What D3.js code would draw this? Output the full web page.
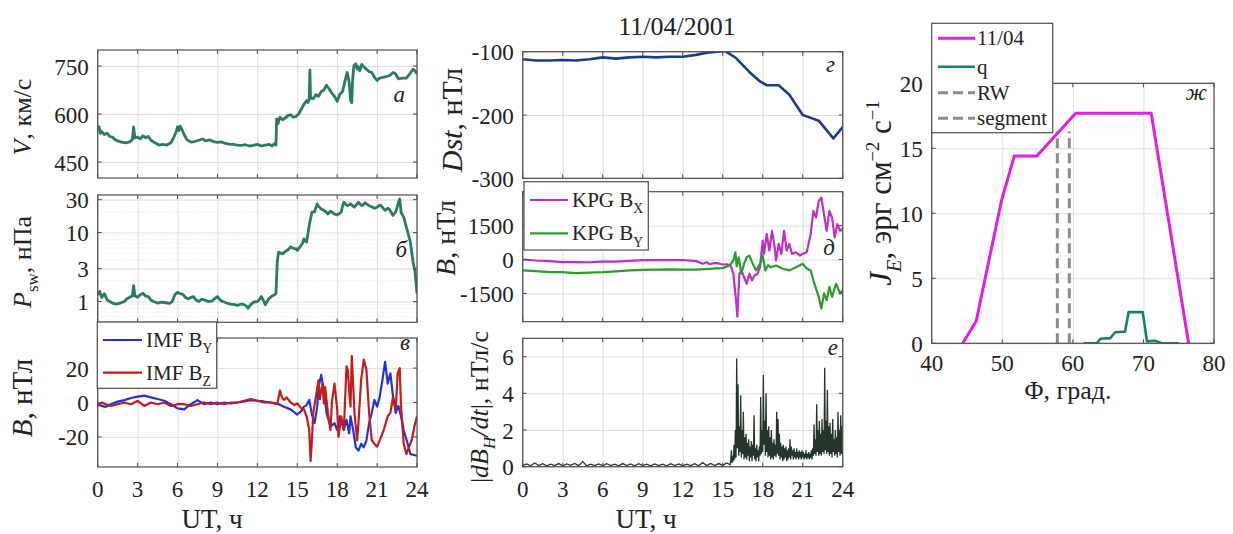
<!DOCTYPE html>
<html>
<head>
<meta charset="utf-8">
<script src="https://cdn.jsdelivr.net/npm/d3@7"></script>
<style>
  body { margin: 0; background: #fff; }
  svg text { font-family: "Liberation Serif", "Times New Roman", serif; fill: #222; }
</style>
</head>
<body>
<svg id="fig" width="1233" height="534"></svg>
<script>
// ---------- data ----------
const hourTicks = [0, 3, 6, 9, 12, 15, 18, 21, 24];

// solar wind speed, km/s  [UT hour, value]
const speed = [[0,548],[0.1,560],[0.2,540],[0.3,545],[0.5,536],[0.7,540],[0.9,530],[1.1,528],[1.3,520],[1.5,516],[1.8,512],[2.1,510],[2.4,513],[2.6,520],[2.7,560],[2.8,525],[3.0,528],[3.2,522],[3.4,532],[3.6,526],[3.8,530],[4.0,518],[4.3,510],[4.6,503],[4.9,505],[5.2,503],[5.5,510],[5.7,525],[5.9,545],[6.0,560],[6.1,548],[6.2,562],[6.35,550],[6.5,535],[6.7,520],[7.0,512],[7.3,514],[7.6,518],[7.9,522],[8.1,516],[8.4,519],[8.7,514],[9.0,511],[9.3,513],[9.6,508],[9.9,506],[10.2,505],[10.5,503],[10.8,502],[11.1,504],[11.4,500],[11.7,502],[12.0,505],[12.3,500],[12.6,503],[12.9,505],[13.1,500],[13.3,508],[13.4,503],[13.45,585],[13.55,570],[13.7,590],[13.9,582],[14.1,588],[14.3,595],[14.5,598],[14.7,590],[14.9,592],[15.1,600],[15.3,615],[15.5,630],[15.7,642],[15.8,636],[15.9,645],[15.95,737],[16.0,650],[16.2,648],[16.4,660],[16.6,655],[16.8,670],[17.0,675],[17.2,690],[17.4,678],[17.6,665],[17.8,655],[18.0,640],[18.2,662],[18.4,670],[18.6,705],[18.75,730],[18.9,700],[19.0,645],[19.1,635],[19.15,700],[19.25,750],[19.4,757],[19.5,740],[19.6,748],[19.7,735],[19.85,755],[20.0,748],[20.2,740],[20.4,732],[20.6,730],[20.8,715],[21.0,705],[21.2,712],[21.5,715],[21.8,718],[22.0,722],[22.2,730],[22.4,725],[22.6,710],[22.9,712],[23.2,712],[23.5,728],[23.7,740],[23.85,735],[24.0,725]];
const speedTicks = [450, 600, 750];

// dynamic pressure, nPa
const pressure = [[0,1.25],[0.15,1.4],[0.3,1.15],[0.5,1.3],[0.7,1.06],[0.9,1.0],[1.1,0.95],[1.4,0.92],[1.7,0.95],[2.0,1.0],[2.2,1.1],[2.4,1.15],[2.6,1.2],[2.7,1.7],[2.8,1.2],[3.0,1.15],[3.2,1.25],[3.4,1.32],[3.6,1.2],[3.8,1.18],[4.0,1.05],[4.2,1.0],[4.5,0.95],[4.8,0.98],[5.1,0.96],[5.4,0.94],[5.6,1.0],[5.8,1.25],[6.0,1.36],[6.2,1.3],[6.4,1.27],[6.6,1.15],[6.8,1.09],[7.0,1.15],[7.2,1.18],[7.4,1.05],[7.6,1.0],[7.8,1.08],[8.0,1.06],[8.3,1.0],[8.6,1.02],[8.8,1.1],[9.0,1.18],[9.2,1.05],[9.4,1.0],[9.7,0.95],[10.0,0.92],[10.3,0.9],[10.5,0.88],[10.8,0.92],[11.0,0.9],[11.2,0.85],[11.3,0.8],[11.5,0.9],[11.7,0.98],[12.0,1.0],[12.2,1.1],[12.3,1.18],[12.5,1.0],[12.6,0.9],[12.8,1.05],[12.9,1.12],[13.1,1.2],[13.3,1.25],[13.4,1.32],[13.5,3.9],[13.6,5.2],[13.8,5.0],[13.9,4.9],[14.1,5.3],[14.3,5.6],[14.5,6.2],[14.7,5.9],[14.9,5.85],[15.0,5.5],[15.2,6.2],[15.4,7.0],[15.5,8.1],[15.7,7.3],[15.8,9.5],[15.9,12.7],[16.0,16],[16.1,19.7],[16.3,20],[16.4,23],[16.5,26],[16.6,24],[16.8,22],[17.0,21],[17.2,19.5],[17.3,18.6],[17.5,20.5],[17.6,19.7],[17.8,18.5],[18.0,18],[18.2,19],[18.3,19.7],[18.4,24],[18.5,27.5],[18.7,25],[18.8,24.6],[19.0,26],[19.2,24],[19.3,23.3],[19.5,26],[19.6,27.5],[19.8,25],[19.9,24.6],[20.1,27],[20.2,26],[20.4,24.5],[20.5,24],[20.7,23],[20.8,22.5],[21.0,23.3],[21.2,25],[21.3,24.6],[21.5,22],[21.6,21],[21.8,22.5],[21.9,22],[22.1,19],[22.2,17.7],[22.4,20],[22.5,23],[22.6,27],[22.7,30.6],[22.75,25],[22.8,19.7],[23.0,16.7],[23.15,13],[23.3,10.2],[23.5,7.3],[23.7,3.8],[23.85,2.7],[24.0,1.3]];
const pressureTicks = [1, 3, 10, 30];
const pressureMinor = [0.6, 0.7, 0.8, 0.9, 2, 3, 4, 5, 6, 7, 8, 9, 20, 30];

// IMF components, nT
const imfBy = [[0,-1],[0.3,-2],[0.6,-2.5],[1.0,-1],[1.5,0.5],[2.0,1.4],[2.5,2.6],[3.0,3.4],[3.5,4],[4.0,3],[4.5,2],[5.0,1],[5.5,-1],[6.0,-3.4],[6.5,-4],[7.0,-1],[7.5,1.4],[8.0,-1],[8.5,0],[9.0,-1],[9.5,0],[10.0,-0.6],[10.5,0],[11.0,0.6],[11.5,1.4],[12.0,1],[12.5,0.6],[13.0,0],[13.5,-0.6],[14.0,-2.5],[14.5,-4],[15.0,-7],[15.3,-5],[15.5,-2.4],[15.7,-1.5],[15.9,1.5],[16.1,-7],[16.3,-12],[16.5,-2.4],[16.6,9],[16.8,16],[17.0,7],[17.2,-6],[17.5,-14],[17.8,-12],[18.0,-16],[18.2,-8],[18.5,-16],[18.7,-10],[18.9,-18],[19.0,-8],[19.2,-16],[19.4,-26],[19.6,-28],[19.8,-24],[20.0,-26],[20.2,-22],[20.4,-12],[20.6,-6],[20.8,1.5],[21.0,-2.4],[21.2,3.4],[21.4,13],[21.6,23.7],[21.8,11],[22.0,17],[22.2,3.4],[22.4,-6],[22.6,-2],[22.8,-8],[23.0,-16],[23.3,-24],[23.5,-30],[23.8,-30.5],[24.0,-31]];
const imfBz = [[0,-2],[0.3,0],[0.6,-1],[1.0,-2],[1.5,-1],[2.0,0],[2.5,-1],[3.0,1],[3.5,-2],[4.0,0],[4.5,-1],[5.0,0],[5.5,-2],[6.0,-1],[6.5,-1],[7.0,-2],[7.5,-1],[8.0,0],[8.5,-1],[9.0,0],[9.5,-1],[10.0,0],[10.5,0],[11.0,1],[11.5,2],[12.0,1],[12.5,0],[13.0,0],[13.5,-1],[13.7,7],[13.85,3],[14.0,1.5],[14.2,3],[14.5,0],[14.8,-1.5],[15.0,-0.5],[15.3,-3.4],[15.5,-4],[15.7,-8],[15.9,-16],[16.0,-34],[16.1,-22],[16.2,-6],[16.4,3.4],[16.6,13],[16.7,2],[16.9,11],[17.0,-0.5],[17.1,9],[17.3,-6],[17.5,-16],[17.6,0],[17.8,11],[18.0,-4],[18.1,-20],[18.3,-8],[18.5,-16],[18.7,21],[18.8,19],[18.9,7],[19.0,-2.4],[19.1,27],[19.3,-6],[19.5,-22],[19.6,-12],[19.8,13],[20.0,25],[20.2,19],[20.4,-6],[20.6,-22],[20.8,-24],[21.0,-25.7],[21.2,-22],[21.5,-16],[21.8,-8],[22.0,-6],[22.2,3.4],[22.4,-4],[22.55,17],[22.7,20],[22.8,-2],[23.0,-24],[23.2,-30],[23.4,-26],[23.6,-22],[23.8,-14],[24.0,-8]];
const imfTicks = [-20, 0, 20];

// Dst index, nT
const dst = [[0,-112],[1,-114],[2,-114],[3,-113],[4,-114],[5,-112],[6,-109],[7,-111],[8,-109],[9,-108],[10,-109],[11,-108],[12,-108],[13,-105],[14,-101],[15.2,-99],[16,-110],[17,-132],[17.8,-147],[18.3,-153],[19.2,-153],[20,-168],[21,-200],[21.4,-203],[22.2,-209],[23.3,-237],[24,-219]];
const dstTicks = [-300, -200, -100];

// KPG ground magnetometer, nT
const kpgBx = [[0,0],[0.5,-20],[1,-44],[2,-73],[3,-117],[4,-110],[5,-120],[6,-90],[7,-90],[8,-60],[9,-30],[10,-30],[11,-30],[12,-20],[13,-70],[13.5,-190],[13.8,-120],[14,-200],[14.5,-150],[15,-220],[15.3,-210],[15.6,-260],[15.8,-630],[16.0,-1800],[16.1,-2530],[16.25,-630],[16.4,-480],[16.6,-775],[16.8,-1070],[17,-630],[17.2,-920],[17.4,-700],[17.6,-640],[17.8,-340],[18,830],[18.1,250],[18.3,1130],[18.5,400],[18.7,1270],[18.9,540],[19,-44],[19.2,690],[19.4,250],[19.6,1270],[19.8,400],[20,690],[20.2,250],[20.5,320],[20.8,175],[21,250],[21.3,320],[21.6,1130],[21.8,2150],[22,1860],[22.2,2590],[22.4,2740],[22.6,2000],[22.8,1270],[23,2150],[23.2,1860],[23.4,980],[23.6,1570],[23.8,1270],[24,1350]];
const kpgBy = [[0,-480],[1,-510],[2,-555],[3,-560],[4,-600],[5,-575],[6,-560],[7,-520],[8,-480],[9,-455],[10,-450],[11,-440],[12,-450],[13,-450],[14,-410],[14.5,-390],[15,-380],[15.5,-265],[15.8,-44],[15.95,320],[16.05,-300],[16.2,100],[16.4,-630],[16.6,-190],[16.8,100],[17,175],[17.2,-117],[17.5,-480],[17.8,-190],[18,175],[18.2,-480],[18.4,-250],[18.6,-340],[19,-265],[19.5,-410],[20,-480],[20.5,-340],[21,-190],[21.3,-400],[21.6,-480],[21.8,-920],[22,-1290],[22.2,-1650],[22.4,-2165],[22.6,-1500],[22.8,-1800],[23,-1210],[23.2,-1650],[23.5,-1070],[23.8,-1500],[24,-1360]];
const kpgTicks = [-1500, 0, 1500];

// |dBH/dt|, nT/s: quiet part, then the active part sampled every 0.05 h from 15.6 UT
const dbhQuiet = [[0,0.06],[0.3,0.15],[0.6,0.05],[0.9,0.2],[1.2,0.06],[1.5,0.16],[1.8,0.05],[2.1,0.14],[2.4,0.06],[2.7,0.17],[3.0,0.05],[3.3,0.15],[3.6,0.07],[3.9,0.18],[4.2,0.06],[4.5,0.28],[4.8,0.05],[5.1,0.14],[5.4,0.06],[5.7,0.15],[6.0,0.05],[6.3,0.16],[6.6,0.06],[6.9,0.14],[7.2,0.05],[7.5,0.17],[7.8,0.06],[8.1,0.15],[8.4,0.05],[8.7,0.16],[9.0,0.06],[9.3,0.14],[9.6,0.05],[9.9,0.15],[10.2,0.06],[10.5,0.14],[10.8,0.05],[11.1,0.16],[11.4,0.06],[11.7,0.15],[12.0,0.05],[12.3,0.14],[12.6,0.06],[12.9,0.16],[13.2,0.05],[13.5,0.22],[13.8,0.07],[14.1,0.18],[14.4,0.06],[14.7,0.17],[15.0,0.07],[15.3,0.2],[15.55,0.1]];
const dbhActiveStart = 15.6;
const dbhActiveStep = 0.05;
const dbhActive = [
  0.3,0.9,0.2,0.6,0.3,1.2,0.4,2.0,
  0.5,5.9,1.0,4.5,0.6,2.2,0.8,3.9,0.5,2.0,0.7,3.0,0.4,1.6,0.5,1.8,0.4,1.3,0.6,1.5,
  0.3,1.1,0.5,1.4,0.3,1.2,0.6,2.8,0.4,1.0,0.3,1.2,0.5,0.9,0.3,1.1,0.6,3.8,0.7,2.0,
  0.8,5.0,1.2,2.5,0.6,4.0,0.8,2.0,0.5,2.2,0.6,1.6,0.4,2.0,0.5,1.3,0.4,1.5,0.6,1.2,
  0.5,3.0,0.7,2.6,0.6,1.8,0.4,1.3,0.5,1.1,0.3,1.2,0.4,1.0,0.5,1.1,0.3,0.9,0.4,1.0,
  0.5,1.5,0.4,1.1,0.6,0.9,0.4,1.0,0.5,0.8,0.4,1.0,0.5,0.8,0.4,0.9,0.5,0.8,0.4,0.9,
  0.5,0.8,0.4,0.7,0.5,0.9,0.4,0.7,0.5,0.8,0.4,0.7,0.5,0.9,0.4,1.0,0.6,2.3,0.7,1.5,
  0.6,3.4,0.8,2.0,0.6,2.5,0.7,1.8,0.6,2.6,0.8,2.0,0.7,5.4,0.9,2.5,0.7,4.2,0.8,2.2,
  0.6,2.4,0.7,1.8,0.5,2.6,0.8,1.5,0.6,2.0,0.7,1.6,0.5,3.0,0.8,2.0,0.6,2.8,0.7,2.2,
  0.6];
const dbhTicks = [0, 2, 4, 6];

// energy flux vs latitude
const fluxEvent = [[44.4,0],[46.3,1.7],[49.9,11],[51.7,14.4],[54.9,14.4],[60.4,17.7],[71.1,17.7],[76.4,0]];
const fluxQuiet = [[61.5,0],[63.4,0],[63.9,0.35],[65.3,0.4],[66,0.85],[67.4,0.9],[67.9,2.4],[69.9,2.4],[70.5,0.15],[71.6,0.2],[72.6,0],[75,0]];
const boundaryRW = 57.8;
const boundarySegment = 59.5;
const boundaryTop = 16.3;
const latTicks = [40, 50, 60, 70, 80];
const fluxTicks = [0, 5, 10, 15, 20];

// ---------- drawing ----------
const svg = d3.select("#fig");
const FRAME = "#4d4d4d", GRID = "#dedede";
let clipCount = 0;

function panel(c) {
  const x = d3.scaleLinear().domain(c.xd).range([c.l, c.r]);
  const y = (c.log ? d3.scaleLog() : d3.scaleLinear()).domain(c.yd).range([c.b, c.t]);
  const g = svg.append("g");

  if (c.minor) {
    g.selectAll(null).data(c.minor).join("line")
      .attr("x1", c.l).attr("x2", c.r)
      .attr("y1", d => y(d)).attr("y2", d => y(d))
      .attr("stroke", "#e4e4e4").attr("stroke-dasharray", "1.5,1.5").attr("stroke-width", 0.8);
  }
  // grid via axes with full-length ticks
  const gx = g.append("g").attr("transform", `translate(0,${c.b})`)
    .call(d3.axisBottom(x).tickValues(c.xt).tickSize(-(c.b - c.t)).tickFormat(""));
  const gy = g.append("g").attr("transform", `translate(${c.l},0)`)
    .call(d3.axisLeft(y).tickValues(c.yt).tickSize(-(c.r - c.l)).tickFormat(""));
  [gx, gy].forEach(a => {
    a.select(".domain").remove();
    a.selectAll("line").attr("stroke", GRID).attr("stroke-width", 1);
  });

  const id = "clip" + (++clipCount);
  svg.append("clipPath").attr("id", id).append("rect")
    .attr("x", c.l).attr("y", c.t).attr("width", c.r - c.l).attr("height", c.b - c.t);
  const plot = g.append("g").attr("clip-path", `url(#${id})`);
  const line = d3.line().x(d => x(d[0])).y(d => y(d[1]));
  (c.series || []).forEach(s => {
    plot.append("path").datum(s.data).attr("d", line)
      .attr("fill", "none").attr("stroke", s.color).attr("stroke-width", s.w)
      .attr("stroke-linejoin", s.join || "round").attr("stroke-dasharray", s.dash || null);
  });

  // frame and inward ticks
  g.append("rect").attr("x", c.l).attr("y", c.t).attr("width", c.r - c.l).attr("height", c.b - c.t)
    .attr("fill", "none").attr("stroke", FRAME).attr("stroke-width", 1.2);
  const tk = g.append("g").attr("stroke", FRAME).attr("stroke-width", 1);
  c.xt.forEach(v => {
    tk.append("line").attr("x1", x(v)).attr("x2", x(v)).attr("y1", c.b).attr("y2", c.b - 4);
    tk.append("line").attr("x1", x(v)).attr("x2", x(v)).attr("y1", c.t).attr("y2", c.t + 4);
  });
  c.yt.forEach(v => {
    tk.append("line").attr("y1", y(v)).attr("y2", y(v)).attr("x1", c.l).attr("x2", c.l + 4);
    tk.append("line").attr("y1", y(v)).attr("y2", y(v)).attr("x1", c.r).attr("x2", c.r - 4);
  });

  // tick labels
  g.selectAll(null).data(c.yt).join("text")
    .attr("x", c.l - 9).attr("y", d => y(d) + 8.5)
    .attr("text-anchor", "end").attr("font-size", 23).text(d => d);
  if (c.xLabels) {
    g.selectAll(null).data(c.xt).join("text")
      .attr("x", d => x(d)).attr("y", c.b + (c.xPad || 30))
      .attr("text-anchor", "middle").attr("font-size", 23).text(d => d);
  }
  // panel letter
  g.append("text").attr("x", c.letter[1]).attr("y", c.letter[2])
    .attr("text-anchor", "end").attr("font-size", 23).attr("font-style", "italic").text(c.letter[0]);
  return { g, x, y };
}

// text built from parts: [text, italic, "sub" | "sup"]
function addParts(t, parts, size) {
  let shift = 0;
  parts.forEach(p => {
    const [txt, ital, mode] = p;
    const sp = t.append("tspan").text(txt);
    if (ital) sp.attr("font-style", "italic");
    let target = 0;
    if (mode === "sub") { target = size * 0.3; sp.attr("font-size", size * 0.65); }
    if (mode === "sup") { target = -size * 0.4; sp.attr("font-size", size * 0.6); }
    if (target !== shift) sp.attr("dy", target - shift);
    shift = target;
  });
}
// rotated axis title centred on (cx, cy)
function yTitle(cx, cy, parts, size) {
  const t = svg.append("text").attr("transform", `translate(${cx},${cy}) rotate(-90)`)
    .attr("x", 0).attr("y", size * 0.33).attr("text-anchor", "middle").attr("font-size", size);
  addParts(t, parts, size);
}

// --- left column ---
const LX = [97.7, 417];
panel({ l: LX[0], r: LX[1], t: 50, b: 178, xd: [0, 24], yd: [400, 800], xt: hourTicks, yt: speedTicks,
  series: [{ data: speed, color: "#2b7a66", w: 2.8 }], letter: ["а", 405, 102] });

panel({ l: LX[0], r: LX[1], t: 195, b: 322.3, xd: [0, 24], yd: [0.5, 35], log: true, minor: pressureMinor,
  xt: hourTicks, yt: pressureTicks,
  series: [{ data: pressure, color: "#2b7a66", w: 2.8 }], letter: ["б", 407, 257] });

panel({ l: LX[0], r: LX[1], t: 338, b: 467, xd: [0, 24], yd: [-37.5, 37.5], xt: hourTicks, yt: imfTicks,
  xLabels: true,
  series: [{ data: imfBy, color: "#2233dd", w: 2.2 }, { data: imfBz, color: "#c21d1d", w: 2.2 }],
  letter: ["в", 410, 350] });

// --- middle column ---
const MX = [522.7, 842.7];
panel({ l: MX[0], r: MX[1], t: 51.7, b: 178.3, xd: [0, 24], yd: [-300, -100], xt: hourTicks, yt: dstTicks,
  series: [{ data: dst, color: "#1c3c8a", w: 2.6 }], letter: ["г", 835, 72] });

panel({ l: MX[0], r: MX[1], t: 191.7, b: 321.7, xd: [0, 24], yd: [-2750, 3000], xt: hourTicks, yt: kpgTicks,
  series: [{ data: kpgBx, color: "#bf2fc4", w: 2.2 }, { data: kpgBy, color: "#2b9b2b", w: 2.2 }],
  letter: ["д", 835, 255] });

const dbhSeries = dbhQuiet.concat(dbhActive.map((v, i) => [dbhActiveStart + i * dbhActiveStep, v]));
panel({ l: MX[0], r: MX[1], t: 338.3, b: 466.7, xd: [0, 24], yd: [0, 7], xt: hourTicks, yt: dbhTicks,
  xLabels: true,
  series: [{ data: dbhSeries, color: "#26352a", w: 1.3, join: "miter" }], letter: ["е", 838, 355] });

// --- right panel ---
panel({ l: 931.7, r: 1214, t: 83.3, b: 343.3, xd: [40, 80], yd: [0, 20], xt: latTicks, yt: fluxTicks,
  xLabels: true, xPad: 28,
  series: [
    { data: [[boundaryRW, 0], [boundaryRW, boundaryTop]], color: "#8c8c8c", w: 3, dash: "10,5" },
    { data: [[boundarySegment, 0], [boundarySegment, boundaryTop]], color: "#8c8c8c", w: 3, dash: "10,5" },
    { data: fluxEvent, color: "#e020e0", w: 3 },
    { data: fluxQuiet, color: "#17806c", w: 2.6 }
  ],
  letter: ["ж", 1207, 100] });

// ---------- titles ----------
svg.append("text").attr("x", 677).attr("y", 35).attr("text-anchor", "middle")
  .attr("font-size", 26).text("11/04/2001");

yTitle(22, 117, [["V", true], [", км/с", false]], 26);
yTitle(22, 262, [["P", true], ["sw", false, "sub"], [", нПа", false]], 26);
yTitle(22, 398, [["B", true], [", нТл", false]], 29);
yTitle(452, 120, [["Dst", true], [", нТл", false]], 30);
yTitle(446, 238, [["B", true], [", нТл", false]], 28);
yTitle(479, 407, [["|", false], ["dB", true], ["H", true, "sub"], ["/dt", true], ["|, нТл/с", false]], 26);
yTitle(881, 193, [["J", true], ["E", true, "sub"], [", эрг см", false], ["−2", false, "sup"], [" с", false], ["−1", false, "sup"]], 31);

svg.append("text").attr("x", 212).attr("y", 528).attr("text-anchor", "middle").attr("font-size", 27).text("UT, ч");
svg.append("text").attr("x", 646).attr("y", 528).attr("text-anchor", "middle").attr("font-size", 27).text("UT, ч");
svg.append("text").attr("x", 1068).attr("y", 399).attr("text-anchor", "middle").attr("font-size", 26).text("Φ, град.");

// ---------- legends ----------
function legend(box, rows, lineX, textX, size) {
  svg.append("rect").attr("x", box[0]).attr("y", box[1]).attr("width", box[2] - box[0]).attr("height", box[3] - box[1])
    .attr("fill", "#fff").attr("stroke", FRAME).attr("stroke-width", 1.2);
  rows.forEach(r => {
    svg.append("line").attr("x1", lineX[0]).attr("x2", lineX[1]).attr("y1", r.y).attr("y2", r.y)
      .attr("stroke", r.color).attr("stroke-width", r.w).attr("stroke-dasharray", r.dash || null);
    const t = svg.append("text").attr("x", textX).attr("y", r.y + size * 0.33).attr("font-size", size);
    addParts(t, r.parts, size);
  });
}
legend([97.3, 322, 216.7, 388.3], [
  { y: 340, color: "#2233dd", w: 2.2, parts: [["IMF B", false], ["Y", false, "sub"]] },
  { y: 372.7, color: "#c21d1d", w: 2.2, parts: [["IMF B", false], ["Z", false, "sub"]] }
], [103, 142], 146, 21);
legend([524, 181.7, 648.3, 250], [
  { y: 200, color: "#bf2fc4", w: 2.2, parts: [["KPG B", false], ["X", false, "sub"]] },
  { y: 233.3, color: "#2b9b2b", w: 2.2, parts: [["KPG B", false], ["Y", false, "sub"]] }
], [530, 568], 572, 21);
legend([931.7, 23.3, 1052.7, 132.7], [
  { y: 38.3, color: "#e020e0", w: 3, parts: [["11/04", false]] },
  { y: 66.7, color: "#17806c", w: 2.6, parts: [["q", false]] },
  { y: 92.7, color: "#8c8c8c", w: 3, dash: "10,5", parts: [["RW", false]] },
  { y: 118.3, color: "#8c8c8c", w: 3, dash: "10,5", parts: [["segment", false]] }
], [938, 975], 977, 21);
</script>
</body>
</html>
